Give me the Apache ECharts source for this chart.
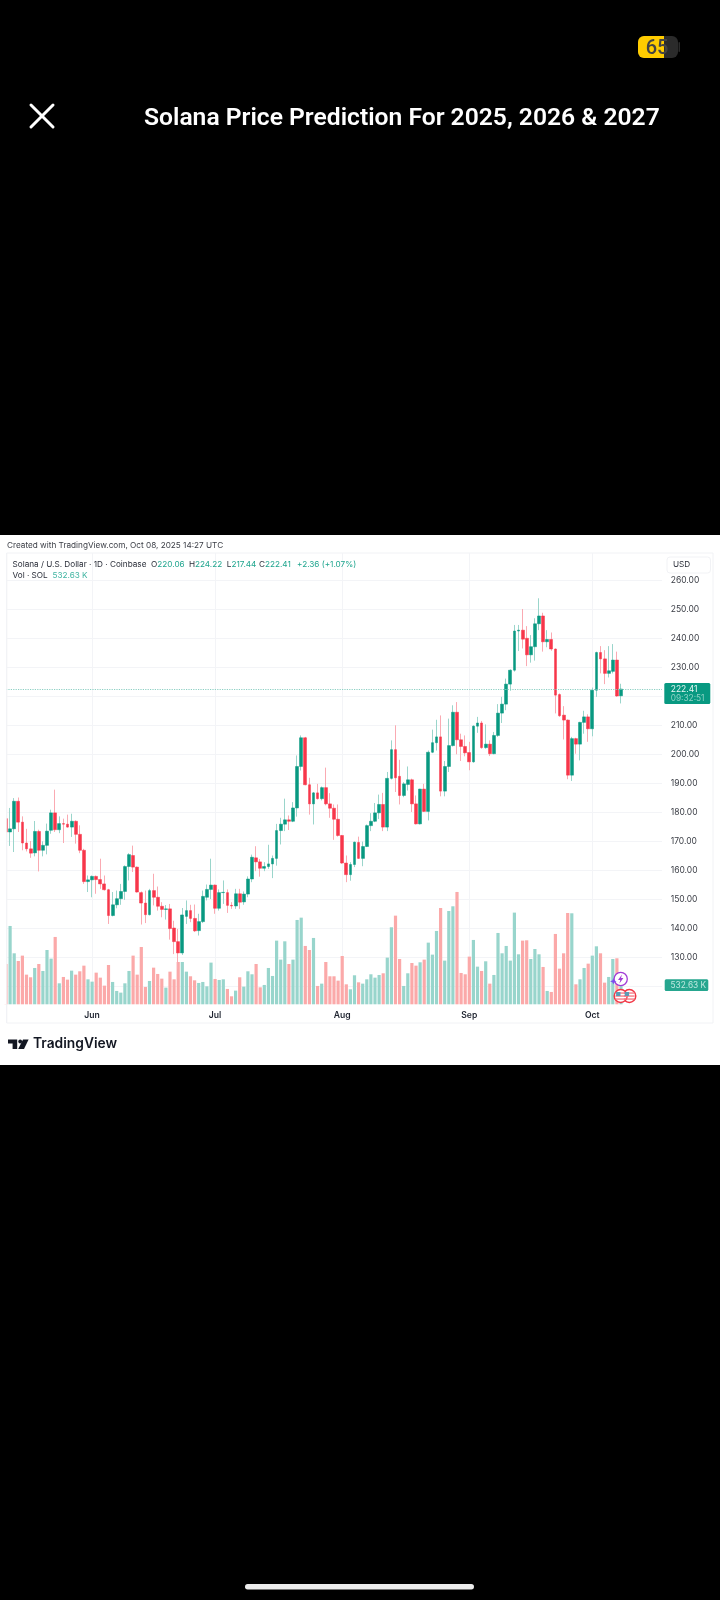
<!DOCTYPE html>
<html><head><meta charset="utf-8">
<style>html,body{margin:0;padding:0;background:#000}#c{width:720px;height:1600px}</style>
<script src="https://cdn.jsdelivr.net/npm/echarts@6/dist/echarts.min.js"></script>
</head><body><div id="c"></div>
<script>
const startDate = '2025-05-11';
const emptyDaysAfterLast = 10;
const monthTickDates = ['2025-06-01','2025-07-01','2025-08-01','2025-09-01','2025-10-01'];
const monthTickLabels = ['Jun','Jul','Aug','Sep','Oct'];
const priceTicks = [120,130,140,150,160,170,180,190,200,210,220,230,240,250,260];
const priceLabels = [130,140,150,160,170,180,190,200,210,220,230,240,250,260];
const lastPrice = 222.41;
const opens = [177.7,173.1,174.2,183.7,176.5,169.3,167.3,165.9,173.3,166.8,168.5,173.7,179.7,173.9,176,175.8,174.8,176.8,172.3,166.8,
156,156.6,157.8,156.7,155.2,153.2,144.3,148,150.1,152.6,161.2,165,161,152.2,148.6,144.6,152.9,150.6,147.5,146.4,
146.6,140,135.3,131.4,144,146,143.3,139.1,142.2,150.6,153.3,154.8,146.8,152.2,152.2,147.8,147.6,151.8,149,151.7,
156.9,164.2,162.8,160.6,161.2,162.1,164,173.6,175.8,177.3,176.8,181.4,195.7,205.6,189.4,182.8,186.6,184.6,188.4,182.8,
181.3,177.5,171.9,162.4,158.4,161.9,169.5,164,168.1,175.3,176.8,179.7,182.6,174.8,191.6,201.5,192.3,185.7,189.5,191.1,
182.8,175.9,187.9,180.2,200.6,203.9,205.9,187.2,195.7,202.9,214.4,204.9,202.6,200.5,197.3,209.6,210.7,202.2,203.4,200.1,
206.4,214.1,217.2,224.1,228.9,242.4,242.7,239.9,234.2,237,244.9,247.6,238.7,239.5,236.2,220.5,213.4,211.7,192.7,205.3,
203.4,210.9,212.8,208.7,222,235,232.8,227.8,228.5,232.4,220.06];
const closes = [173.1,174.2,183.7,176.5,169.3,167.3,165.8,173.3,166.8,168.5,173.4,179.7,173.9,176,175.8,174.8,176.8,172.3,166.8,156,
156.6,157.8,156.7,155.2,153.2,144.3,148,150.1,152.6,161.2,165.3,161,152.4,148.6,144.6,152.9,150.6,147.5,146.4,146.6,
139.8,135.3,131.4,144.5,146,143.3,139,142.2,150.9,153.3,154.8,146.8,152.2,152.3,147.8,147.6,151.8,148.9,151.7,156.9,
164.4,162.8,160.6,161.2,162.1,164,173.6,175.8,177.3,176.8,181.4,195.7,205.6,189.4,182.8,186.6,184.6,188.4,182.8,181.3,
177.5,171.9,162.4,158.4,161.9,169.6,164,168.1,175.3,176.8,179.7,182.6,174.8,191.6,201.5,191.8,185.7,189.7,191.1,182.8,
175.9,187.9,180.2,200.6,203.9,205.9,187.2,195.7,202.9,214.4,204.9,202.6,200.4,197.3,209.6,210.7,202.2,203.4,200.1,206.4,
214.1,217.2,224.1,228.9,242.4,242.7,239.6,234.2,237,244.9,247.6,238.7,239.5,236.2,220.3,213.2,211.7,192.7,205.3,203.4,
210.9,212.8,208.7,222,235,232.8,227.8,228.7,232.4,220,222.41];
const highs = [178,181.4,184.8,185,178.5,174.2,170,176.9,173.9,169.9,176,180.8,187.7,178.5,177.7,179.1,179.4,177.1,175.4,167.3,
158.1,158.1,158.1,163.9,158.1,153.5,152.4,152.9,155.2,161.6,165.8,168.4,161.2,152.6,152.9,153.5,158.7,154.3,148.9,147.9,
148.3,142.5,139.7,146.9,149.5,148,148.1,144.9,152.9,155,163.9,155,153.3,156.4,153.3,148.9,153.5,153.5,152.6,157.8,
165.3,168.2,163.8,162.7,168.7,165,175.9,178,184.6,178.8,183.4,199.5,206.4,205.9,191.8,186.9,189.7,188.8,195.3,186.5,
182.6,182.6,172.1,165,162.7,169.8,171.5,169.8,175.7,179.6,183.1,186,186.6,193.8,204.7,209.9,198,190.3,195.7,191.5,
185.7,188,189.7,201.2,208.4,211.8,213.3,197.6,212.2,216.8,217.9,207,206.4,204.2,209.9,212.8,211.4,210.2,204.7,207.6,
217.2,219.7,226,229.2,244.5,244.5,250,244.1,241,246.8,253.7,248.7,242.7,241.9,236.4,220.9,216.5,211.9,205.9,205.6,
211.1,214.9,213.7,222.9,235.3,237.2,235.8,237.2,237.9,235.3,224.22];
const lows = [173,168.3,166.2,173.1,166.8,166.4,164.2,164.7,159.5,164.7,165.4,172.5,173.1,172.7,169.3,174.6,171.4,169.1,165.8,155.2,
152.4,150.6,151.8,153.5,152.9,141.4,144,146.8,148,149.7,156.4,159.3,152.2,141.2,141.7,144.3,147.8,146,143.7,142.9,
136,131,125.8,130.7,141.4,142,138.6,137.4,141.7,149.5,150,144.9,146,148.3,145.2,146.6,146.6,146.6,148,150.6,
155.8,159.6,157.7,159.6,160.4,157.2,161.5,168.8,173.4,173.8,176.5,178.4,194.3,189.2,179.1,175.7,184.3,184,182.3,178,
170.4,171.5,162.1,155.8,156.3,161,163.8,161.3,167.9,173.4,176.5,177.6,173.4,173.4,191.2,186.9,182.6,185.1,187.4,180,
175.7,175.7,180,177.1,200.3,201.2,185.4,185.4,193.8,202.6,199.9,197.6,199.2,194.4,197,207.3,201.8,201.8,199.3,199.9,
205.9,210.7,215.1,221.8,228.4,235.5,236.4,230.3,231.5,232.2,242.7,235.3,236.8,235.6,214,212.8,205,191.3,190.7,200.1,
197.8,207,204.2,206.1,219.7,227.8,224.1,226.4,227.8,219.7,217.44];
const volumesK = [1130,2195,1429,1214,1364,831,757,1018,1130,934,1522,1280,1887,588,766,691,943,831,925,1083,
700,635,887,747,523,1102,626,374,327,588,934,1364,831,1606,486,654,1027,850,719,467,
915,700,1186,1186,915,785,672,598,626,504,1168,710,682,700,430,224,383,757,495,925,
841,1130,476,542,1018,794,1784,1252,1765,1130,1252,2363,2428,1635,1522,1859,514,579,1186,785,
785,663,1354,560,420,813,616,579,700,841,747,822,869,1308,2158,2484,1270,514,869,1158,
1083,1177,1252,1728,1392,2055,2699,1224,2615,2746,3148,878,841,1336,1803,1055,934,1205,579,822,
1999,1429,1635,1224,2569,1401,1784,1793,1270,1550,1401,1046,374,346,1971,999,1429,2559,2550,560,
700,1018,1139,1364,1625,1429,607,766,1270,1289,532.63];

const UP='#089981', DOWN='#F7364A', UP_W='#9AD5CB', DOWN_W='#FAAAB2', UP_V='#98D5CC', DOWN_V='#FBA9A9';
const GRIDC='#F3F4F7';
const categories=[];
{const d0=new Date(startDate+'T00:00:00Z');
 for(let i=0;i<opens.length+emptyDaysAfterLast;i++){categories.push(new Date(d0.getTime()+i*864e5).toISOString().slice(0,10));}}
const isMonth=(i,v)=>monthTickDates.includes(v);
const wickData=opens.map((o,i)=>[o,closes[i],lows[i],highs[i]]);
const bodyData=opens.map((o,i)=>[o,closes[i],Math.min(o,closes[i]),Math.max(o,closes[i])]);
const volData=volumesK.map((v,i)=>({value:v,itemStyle:{color:closes[i]>=opens[i]?UP_V:DOWN_V}}));

const IF='Inter, "Noto Sans", sans-serif';
function T(x,y,text,size,color,weight,align,font){
  return {type:'text',x:x,y:y,z:120,silent:true,style:{text:text,font:(weight||400)+' '+size+'px '+(font||IF),fill:color,textAlign:align||'left',textVerticalAlign:'middle'}};
}
function R(x,y,w,h,fill,r,z,stroke){
  return {type:'rect',z:z==null?110:z,silent:true,shape:{x:x,y:y,width:w,height:h,r:r||0},style:{fill:fill,stroke:stroke||null,lineWidth:stroke?1:0}};
}
function L(x1,y1,x2,y2,c,w){return {type:'line',z:120,silent:true,shape:{x1,y1,x2,y2},style:{stroke:c,lineWidth:w,lineCap:'round'}};}
function flag(cx,cy){
  const r=6.5,out=[{type:'circle',z:115,silent:true,shape:{cx,cy,r:r},style:{fill:'#fff',stroke:'#F23645',lineWidth:1.4}}];
  [-3,0,3].forEach(d=>out.push(R(cx-5.4,cy+d-0.6,10.8,1.3,'#F5737E',0,116)));
  out.push(R(cx-4.6,cy-4,4.4,4,'#5b9bb5',0,117));
  return out;
}
const FS=8.2;
const graphics=[
  R(0,535,720,530,'#fff',0,-10),
  R(0,553.5,6.4,451,'#fff',0,50),
  R(662,553.5,2,451,'#fff',0,-9),
  {type:'line',z:51,silent:true,shape:{x1:6.7,y1:553,x2:6.7,y2:1023},style:{stroke:'#F1F2F5',lineWidth:1}},
  {type:'rect',z:-9,silent:true,shape:{x:6.7,y:553,width:706.3,height:470},style:{fill:'none',stroke:'#F1F2F5',lineWidth:1}},
  // top bar
  R(638,36,40,22,'#2b2b2b',6,110),
  {type:'rect',z:111,silent:true,shape:{x:638,y:36,width:26,height:22,r:[6,0,0,6]},style:{fill:'#FFCC00'}},
  R(678.5,42,1.5,10,'#2b2b2b',1,110),
  T(657,49,'65',20,'#444444',500,'center','Roboto, sans-serif'),
  L(31,105,53,127,'#fff',3),L(53,105,31,127,'#fff',3),
  T(144,119,'Solana Price Prediction For 2025, 2026 & 2027',24.65,'#fff',600,'left','Roboto, sans-serif'),
  // header
  T(7,546,'Created with TradingView.com, Oct 08, 2025 14:27 UTC',FS,'#3a3d45'),
  T(12.5,564.5,'Solana / U.S. Dollar · 1D · Coinbase',FS,'#2a2e39'),
  T(151,564.5,'O',FS,'#2a2e39'),T(157.3,564.5,'220.06',FS,'#1FA58E'),
  T(189,564.5,'H',FS,'#2a2e39'),T(195,564.5,'224.22',FS,'#1FA58E'),
  T(226.7,564.5,'L',FS,'#2a2e39'),T(231.5,564.5,'217.44',FS,'#1FA58E'),
  T(259,564.5,'C',FS,'#2a2e39'),T(265,564.5,'222.41',FS,'#1FA58E'),
  T(297,564.5,'+2.36 (+1.07%)',FS,'#1FA58E'),
  T(12.5,576,'Vol · SOL',FS,'#2a2e39'),T(52.5,576,'532.63 K',FS,'#3FB4A1'),
  // USD box
  {type:'rect',z:-8,silent:true,shape:{x:667,y:557,width:43.5,height:16,r:3},style:{fill:'#fff',stroke:'#F1F2F5',lineWidth:1}},
  T(673,565,'USD',FS,'#2a2e39'),
  // price tags
  R(664.3,683,46,21,'#089981',1.5,110),
  T(670.7,689,'222.41',8.5,'#E8F6F3'),T(670.7,698.7,'09:32:51',8.3,'#8FD3C6'),
  R(664.7,979.3,43.6,11.7,'#26A68F',1.5,110),
  T(670.5,985.2,'532.63 K',8.3,'#BFE8E0'),
  // event icons
  {type:'circle',z:115,silent:true,shape:{cx:620.7,cy:979,r:6.6},style:{fill:'#fff',stroke:'#A23CD6',lineWidth:1.3}},
  {type:'polygon',z:116,silent:true,shape:{points:[[622,974.5],[618,980],[620.3,980],[619.4,983.5],[623.4,978],[621,978]]},style:{fill:'#A23CD6'}},
  {type:'polygon',z:116,silent:true,shape:{points:[[613.3,978],[614.2,980.4],[616.6,981.3],[614.2,982.2],[613.3,984.6],[612.4,982.2],[610,981.3],[612.4,980.4]]},style:{fill:'#7A4DF0'}},
  ...flag(629.3,996),...flag(620.7,996),
  // logo
  {type:'polygon',z:115,silent:true,shape:{points:[[8,1039.5],[17.2,1039.5],[17.2,1049],[12.6,1049],[12.6,1043.4],[8,1043.4]]},style:{fill:'#131722'}},
  {type:'circle',z:115,silent:true,shape:{cx:20.2,cy:1041.5,r:1.9},style:{fill:'#131722'}},
  {type:'polygon',z:115,silent:true,shape:{points:[[23,1039.5],[28.6,1039.5],[24,1049],[18.2,1049]]},style:{fill:'#131722'}},
  T(33,1044,'TradingView',13.8,'#131722',600),
  // home bar
  R(245,1584,229,5.5,'#ececec',2.7,110)
];
const chart=echarts.init(document.getElementById('c'),null,{renderer:'canvas',width:720,height:1600});
chart.setOption({
  animation:false,backgroundColor:'#000',
  graphic:{elements:graphics},
  grid:{left:6,top:553,width:656,height:451.3,containLabel:false},
  xAxis:{type:'category',data:categories,boundaryGap:false,
    axisLine:{show:false},axisTick:{show:false},
    splitLine:{show:true,interval:isMonth,lineStyle:{color:GRIDC,width:1}},
    axisLabel:{interval:isMonth,margin:7,hideOverlap:false,
      fontFamily:'Inter',fontSize:8.6,fontWeight:600,color:'#1f2430',
      formatter:v=>monthTickLabels[monthTickDates.indexOf(v)]||''}},
  yAxis:[
    {type:'value',position:'right',min:113.69,max:269.31,scale:true,
     axisLine:{show:false},
     axisTick:{show:false,customValues:priceTicks},
     splitLine:{show:true,lineStyle:{color:GRIDC,width:1}},
     axisLabel:{customValues:priceLabels,margin:8.7,fontFamily:'Inter',fontSize:8.5,color:'#3a3d45',
       formatter:v=>v.toFixed(2)}},
    {type:'value',min:0,max:12645,show:false,splitLine:{show:false}}
  ],
  series:[
    {name:'Vol',type:'bar',yAxisIndex:1,barWidth:3.2,data:volData,z:1,silent:true},
    {name:'Wicks',type:'candlestick',data:wickData,barWidth:1,z:3,silent:true,
     itemStyle:{color:UP_W,color0:DOWN_W,borderColor:UP_W,borderColor0:DOWN_W,borderWidth:1},
     markLine:{silent:true,symbol:'none',label:{show:false},
       lineStyle:{color:'#8CCFC3',type:'dotted',width:1.2},data:[{yAxis:lastPrice}],animation:false}},
    {name:'Bodies',type:'candlestick',data:bodyData,barWidth:3.3,z:4,silent:true,
     itemStyle:{color:UP,color0:DOWN,borderColor:UP,borderColor0:DOWN,borderWidth:0.5}}
  ]
});
</script></body></html>
